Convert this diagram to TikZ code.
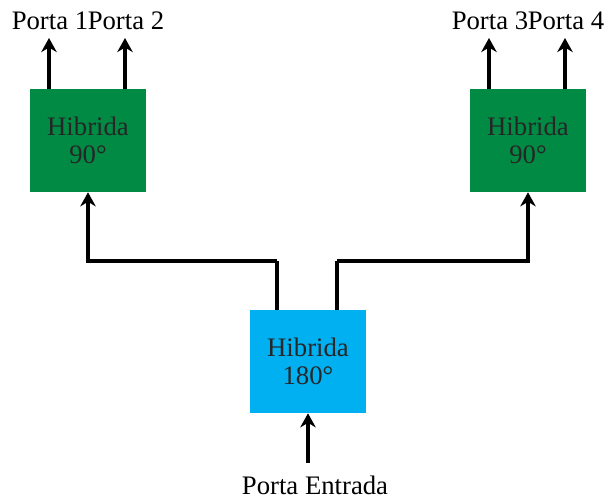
\documentclass[tikz,border=0pt]{standalone}
\usepackage{fontspec}
\setmainfont{Liberation Serif}
\usepackage{tikz}
\usetikzlibrary{arrows.meta}
\definecolor{hgreen}{RGB}{0, 138, 68}
\definecolor{hblue}{RGB}{0, 176, 240}
\definecolor{htext}{RGB}{38, 38, 38}

\begin{document}
\begin{tikzpicture}[x=0.025cm, y=-0.025cm,
        box/.style={rectangle, minimum width=2.9cm, minimum height=2.575cm,
                    align=center, text=htext,
                    font=\fontsize{19}{20}\selectfont},
        arr/.style={-{Stealth[length=10pt, width=11pt]}, line width=2.8pt},
        wire/.style={line width=2.8pt},
        lbl/.style={font=\fontsize{19}{20}\selectfont, inner sep=0pt},
      ]
        \useasboundingbox (0,0) rectangle (608,501);

        \node[box, fill=hgreen] (hl) at (88,140.5) {Hibrida\\90°};
        \node[box, fill=hgreen] (hr) at (528,140.5) {Hibrida\\90°};
        \node[box, fill=hblue]  (hc) at (308,361.5) {Hibrida\\180°};

        % saidas
        \coordinate (o1) at (49,38);
        \coordinate (o2) at (125,38);
        \coordinate (o3) at (489,38);
        \coordinate (o4) at (565,38);
        \draw[arr] (o1 |- hl.north) -- (o1);
        \draw[arr] (o2 |- hl.north) -- (o2);
        \draw[arr] (o3 |- hr.north) -- (o3);
        \draw[arr] (o4 |- hr.north) -- (o4);
        \node[lbl, anchor=base] (p1) at (50,29) {Porta 1};
        \node[lbl, anchor=base] (p2) at (126,29) {Porta 2};
        \node[lbl, anchor=base] (p3) at (490,29) {Porta 3};
        \node[lbl, anchor=base] (p4) at (566,29) {Porta 4};

        % ligacoes da hibrida 180
        \coordinate (cl) at (277,261);
        \coordinate (cr) at (337,261);
        \draw[wire] (cl |- hc.north) -- (cl);
        \draw[arr] (cl) -| (hl.south);
        \draw[wire] (cr |- hc.north) -- (cr);
        \draw[arr] (cr) -| (hr.south);

        % entrada
        \coordinate (in) at (308,463);
        \draw[arr] (in) -- (hc.south);
        \node[lbl, anchor=base] (ent) at (315,494) {Porta Entrada};
      \end{tikzpicture}
\end{document}
